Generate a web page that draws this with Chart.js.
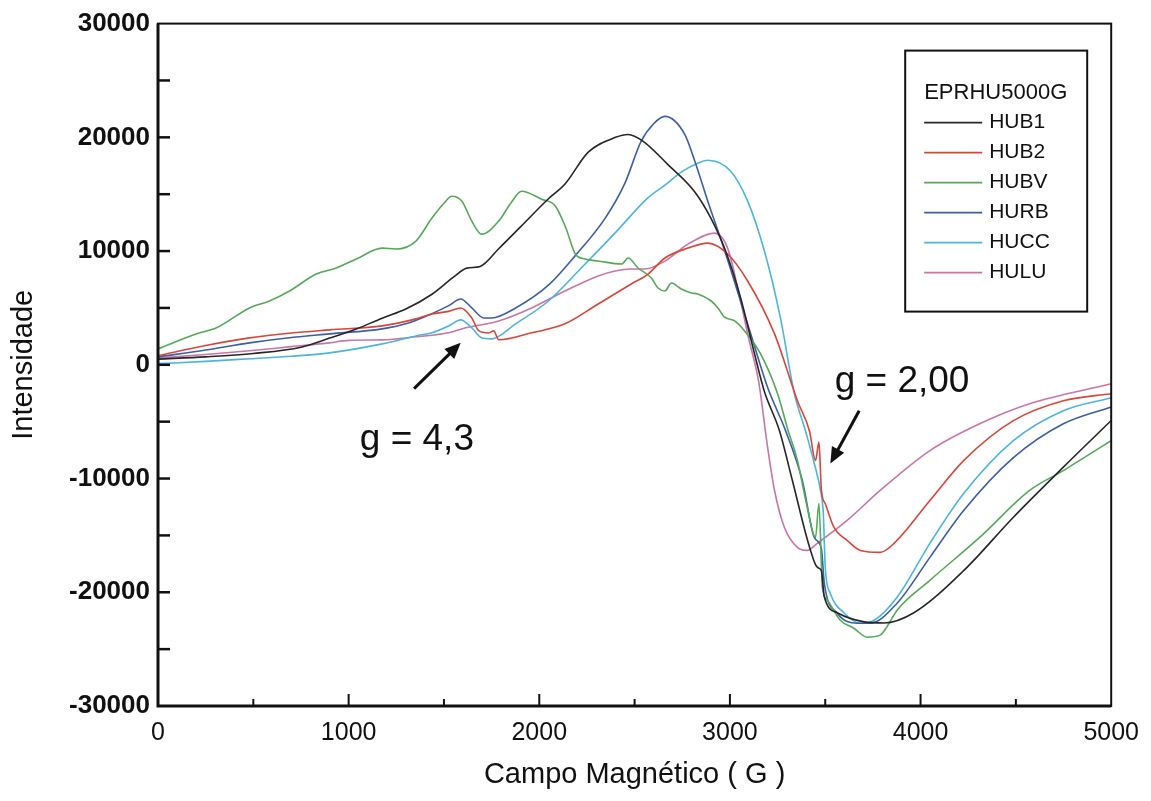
<!DOCTYPE html>
<html>
<head>
<meta charset="utf-8">
<script src="https://cdn.jsdelivr.net/npm/chart.js@4.4.0/dist/chart.umd.min.js"></script>
<style>
  html, body { margin: 0; padding: 0; background: #fff; }
  #wrap { width: 1151px; height: 801px; }
</style>
</head>
<body>
<div id="wrap"><canvas id="chart" width="1151" height="801"></canvas></div>
<script>
// campo (G) e intensidade
const hub1X = [0, 250, 500, 750, 900, 1040, 1176, 1300, 1437, 1550, 1620, 1690, 1787, 1900, 2048, 2135, 2257, 2400, 2466, 2545, 2675, 2816, 2900, 2973, 3056, 3130, 3180, 3260, 3328, 3417, 3458, 3480, 3495, 3563, 3704, 3808, 3965, 4226, 4487, 4749, 5000];
const hub1Y = [500, 700, 1000, 1550, 2350, 3150, 4100, 4900, 6200, 7700, 8500, 8650, 10200, 12100, 14600, 15900, 18700, 20000, 20250, 19650, 17600, 15200, 12900, 10200, 5900, 900, -2300, -5800, -10200, -16000, -17800, -18100, -20400, -21800, -22600, -22700, -21800, -18100, -13400, -9000, -4900];

const hub2X = [0, 250, 480, 700, 900, 1176, 1353, 1437, 1525, 1588, 1646, 1682, 1735, 1761, 1787, 1960, 2135, 2309, 2482, 2571, 2659, 2780, 2884, 2988, 3093, 3234, 3354, 3417, 3449, 3467, 3480, 3500, 3546, 3615, 3684, 3788, 3861, 4049, 4226, 4487, 4749, 5000];
const hub2Y = [800, 1700, 2370, 2800, 3070, 3420, 4040, 4470, 4700, 5000, 4120, 3000, 2800, 2980, 2200, 2810, 3600, 5350, 7100, 7980, 9390, 10260, 10700, 9740, 7370, 2720, -3160, -5800, -8420, -6800, -11050, -12200, -14300, -15440, -16320, -16490, -15700, -11930, -8420, -4910, -3160, -2540];

const hubvX = [0, 203, 307, 480, 585, 690, 830, 935, 1040, 1176, 1249, 1353, 1437, 1500, 1541, 1594, 1646, 1698, 1787, 1850, 1907, 2012, 2085, 2140, 2189, 2240, 2309, 2432, 2466, 2518, 2588, 2623, 2659, 2693, 2745, 2798, 2832, 2902, 2937, 2970, 3025, 3077, 3161, 3250, 3302, 3354, 3406, 3449, 3467, 3485, 3511, 3579, 3650, 3720, 3788, 3825, 3877, 4049, 4310, 4572, 4749, 5000];
const hubvY = [1400, 2720, 3250, 5000, 5610, 6490, 7980, 8510, 9300, 10260, 10180, 10880, 12900, 14200, 14820, 14390, 12630, 11490, 12630, 14200, 15260, 14560, 13950, 12000, 9740, 9300, 9120, 8860, 9390, 8510, 7630, 6750, 6490, 7190, 6670, 6320, 6230, 5610, 5000, 4210, 3860, 2980, 960, -2540, -5600, -8420, -12550, -15180, -12200, -19560, -20700, -22460, -23160, -23950, -23770, -23000, -21580, -18950, -15180, -11050, -9300, -6670];

const hurbX = [0, 250, 480, 700, 900, 1176, 1300, 1437, 1525, 1588, 1646, 1708, 1750, 1876, 2048, 2189, 2346, 2450, 2534, 2600, 2659, 2763, 2816, 2884, 2973, 3109, 3198, 3292, 3380, 3443, 3480, 3495, 3563, 3668, 3736, 3877, 4049, 4226, 4487, 4749, 5000];
const hurbY = [700, 1300, 1930, 2400, 2720, 3160, 3600, 4500, 5200, 5790, 5000, 4120, 4120, 5000, 7000, 9600, 12900, 16000, 19650, 21200, 21840, 20260, 17890, 14390, 10000, 2720, -2000, -5790, -10180, -15200, -16200, -19200, -21840, -22720, -22720, -20960, -16930, -12810, -8160, -5180, -3700];

const huccX = [0, 250, 480, 700, 900, 1176, 1353, 1437, 1525, 1588, 1646, 1698, 1750, 1876, 2048, 2220, 2398, 2571, 2659, 2750, 2832, 2884, 3004, 3093, 3181, 3265, 3338, 3396, 3443, 3475, 3490, 3500, 3527, 3600, 3684, 3757, 3877, 4049, 4226, 4487, 4749, 5000];
const huccY = [100, 300, 530, 750, 1050, 1840, 2540, 2810, 3420, 3950, 3250, 2370, 2280, 3600, 5610, 8510, 11600, 14700, 15800, 17000, 17720, 17980, 17020, 14390, 10000, 4120, -2540, -5790, -8700, -11050, -13100, -17800, -20100, -21840, -22720, -22460, -20440, -15700, -11320, -6670, -4040, -2900];

const huluX = [0, 250, 480, 700, 900, 1000, 1176, 1353, 1525, 1614, 1787, 1960, 2135, 2309, 2398, 2482, 2555, 2659, 2780, 2920, 2988, 3056, 3100, 3150, 3198, 3234, 3286, 3354, 3406, 3458, 3615, 3788, 4049, 4310, 4572, 5000];
const huluY = [600, 900, 1230, 1600, 1930, 2150, 2190, 2460, 2810, 3250, 3860, 5000, 6490, 7810, 8250, 8420, 8420, 9120, 10610, 11580, 10260, 5600, 2200, -1400, -7280, -11050, -14300, -16050, -16320, -15700, -13680, -11050, -7540, -5180, -3420, -1670];

const seriesNames = ['HUB1', 'HUB2', 'HUBV', 'HURB', 'HUCC', 'HULU'];
const legendTitle = 'EPRHU5000G';
const xTicks = [0, 1000, 2000, 3000, 4000, 5000];
const yTicks = [-30000, -20000, -10000, 0, 10000, 20000, 30000];

const colors = ['#262626', '#d8463a', '#55a957', '#3b5ea6', '#4cb5dc', '#c776a6'];
const FONT = '"Liberation Sans", Arial, sans-serif';

function pts(xs, ys) {
    return xs.map((x, i) => ({x: x, y: ys[i]}));
}

const allX = [hub1X, hub2X, hubvX, hurbX, huccX, huluX];
const allY = [hub1Y, hub2Y, hubvY, hurbY, huccY, huluY];

let datasets = seriesNames.map((name, i) => {
    return {
        label: name,
        data: pts(allX[i], allY[i]),
        borderColor: colors[i],
        borderWidth: 1.6,
        pointRadius: 0,
        fill: false,
        cubicInterpolationMode: 'monotone'
    };
});

// setas e textos das linhas g, em coordenadas do grafico
const notes = [
    {text: 'g = 4,3', x: 1358, y: -6600, ax1: 1343, ay1: -2100, ax2: 1588, ay2: 1930},
    {text: 'g = 2,00', x: 3903, y: -1500, ax1: 3678, ay1: -4040, ax2: 3527, ay2: -8680}
];

function arrow(ctx, x1, y1, x2, y2) {
    const ang = Math.atan2(y2 - y1, x2 - x1);
    const head = 16, w = 7;
    ctx.beginPath();
    ctx.moveTo(x1, y1);
    ctx.lineTo(x2 - Math.cos(ang) * head * 0.8, y2 - Math.sin(ang) * head * 0.8);
    ctx.lineWidth = 3;
    ctx.stroke();
    ctx.beginPath();
    ctx.moveTo(x2, y2);
    ctx.lineTo(x2 - Math.cos(ang) * head + Math.sin(ang) * w, y2 - Math.sin(ang) * head - Math.cos(ang) * w);
    ctx.lineTo(x2 - Math.cos(ang) * head - Math.sin(ang) * w, y2 - Math.sin(ang) * head + Math.cos(ang) * w);
    ctx.closePath();
    ctx.fill();
}

const framePlugin = {
    id: 'frame',
    afterDraw(chart) {
        const {ctx, chartArea: a, scales} = chart;
        const sx = scales.x, sy = scales.y;
        ctx.save();
        ctx.strokeStyle = '#111';
        ctx.fillStyle = '#111';

        // caixa
        ctx.lineWidth = 2;
        ctx.strokeRect(a.left, a.top, a.right - a.left, a.bottom - a.top);
        ctx.lineWidth = 3;
        ctx.beginPath();
        ctx.moveTo(a.left, a.top);
        ctx.lineTo(a.left, a.bottom);
        ctx.lineTo(a.right, a.bottom);
        ctx.stroke();

        // marcas para dentro
        ctx.lineWidth = 2.5;
        for (let v = -25000; v < 30000; v += 5000) {
            const py = sy.getPixelForValue(v);
            ctx.beginPath();
            ctx.moveTo(a.left, py);
            ctx.lineTo(a.left + 12, py);
            ctx.stroke();
        }
        ctx.lineWidth = 2;
        for (let v = 500; v < 5000; v += 500) {
            const px = sx.getPixelForValue(v);
            const len = v % 1000 === 0 ? 12 : 7;
            ctx.beginPath();
            ctx.moveTo(px, a.bottom);
            ctx.lineTo(px, a.bottom - len);
            ctx.stroke();
        }

        // legenda
        const bx = a.right - 206, by = a.top + 27, bw = 182, bh = 261;
        ctx.fillStyle = '#fff';
        ctx.fillRect(bx, by, bw, bh);
        ctx.lineWidth = 2;
        ctx.strokeStyle = '#111';
        ctx.strokeRect(bx, by, bw, bh);
        ctx.fillStyle = '#111';
        ctx.textBaseline = 'middle';
        ctx.textAlign = 'left';
        ctx.font = '22px ' + FONT;
        ctx.fillText(legendTitle, bx + 19, by + 42);
        ctx.font = '21px ' + FONT;
        chart.data.datasets.forEach((ds, i) => {
            const ly = by + 72 + i * 30;
            ctx.strokeStyle = ds.borderColor;
            ctx.lineWidth = 1.6;
            ctx.beginPath();
            ctx.moveTo(bx + 19, ly);
            ctx.lineTo(bx + 77, ly);
            ctx.stroke();
            ctx.fillStyle = '#111';
            ctx.fillText(ds.label, bx + 84, ly);
        });

        // anotacoes
        ctx.strokeStyle = '#111';
        ctx.fillStyle = '#111';
        ctx.font = '37px ' + FONT;
        ctx.textAlign = 'center';
        notes.forEach(n => {
            ctx.fillText(n.text, sx.getPixelForValue(n.x), sy.getPixelForValue(n.y));
            arrow(ctx, sx.getPixelForValue(n.ax1), sy.getPixelForValue(n.ay1),
                sx.getPixelForValue(n.ax2), sy.getPixelForValue(n.ay2));
        });
        ctx.restore();
    }
};

const main_ctx = document.getElementById('chart');

new Chart(main_ctx, {
    type: 'line',
    data: {datasets: datasets},
    options: {
        responsive: false,
        animation: false,
        events: [],
        layout: {padding: {top: 21, right: 32, left: 0, bottom: 0}},
        plugins: {legend: {display: false}, tooltip: {enabled: false}},
        scales: {
            x: {
                type: 'linear',
                min: 0,
                max: 5000,
                afterFit: function (scale) { scale.height = 95; },
                afterBuildTicks: function (scale) { scale.ticks = xTicks.map(v => ({value: v})); },
                grid: {display: false, drawTicks: false},
                border: {display: false},
                ticks: {
                    padding: 12,
                    maxRotation: 0,
                    color: '#111',
                    font: {size: 25, family: FONT},
                    callback: v => String(v)
                },
                title: {
                    display: true,
                    text: 'Campo Magnético ( G )',
                    color: '#111',
                    font: {size: 29, family: FONT},
                    padding: {top: 0, bottom: 9}
                }
            },
            y: {
                type: 'linear',
                min: -30000,
                max: 30000,
                afterFit: function (scale) { scale.width = 158; },
                afterBuildTicks: function (scale) { scale.ticks = yTicks.map(v => ({value: v})); },
                grid: {display: false, drawTicks: false},
                border: {display: false},
                ticks: {
                    padding: 8,
                    color: '#111',
                    font: {size: 26, weight: 'bold', family: FONT},
                    callback: v => String(v)
                },
                title: {
                    display: true,
                    text: 'Intensidade',
                    color: '#111',
                    font: {size: 29, family: FONT},
                    padding: {top: 7, bottom: 0}
                }
            }
        }
    },
    plugins: [framePlugin]
});
</script>
</body>
</html>
